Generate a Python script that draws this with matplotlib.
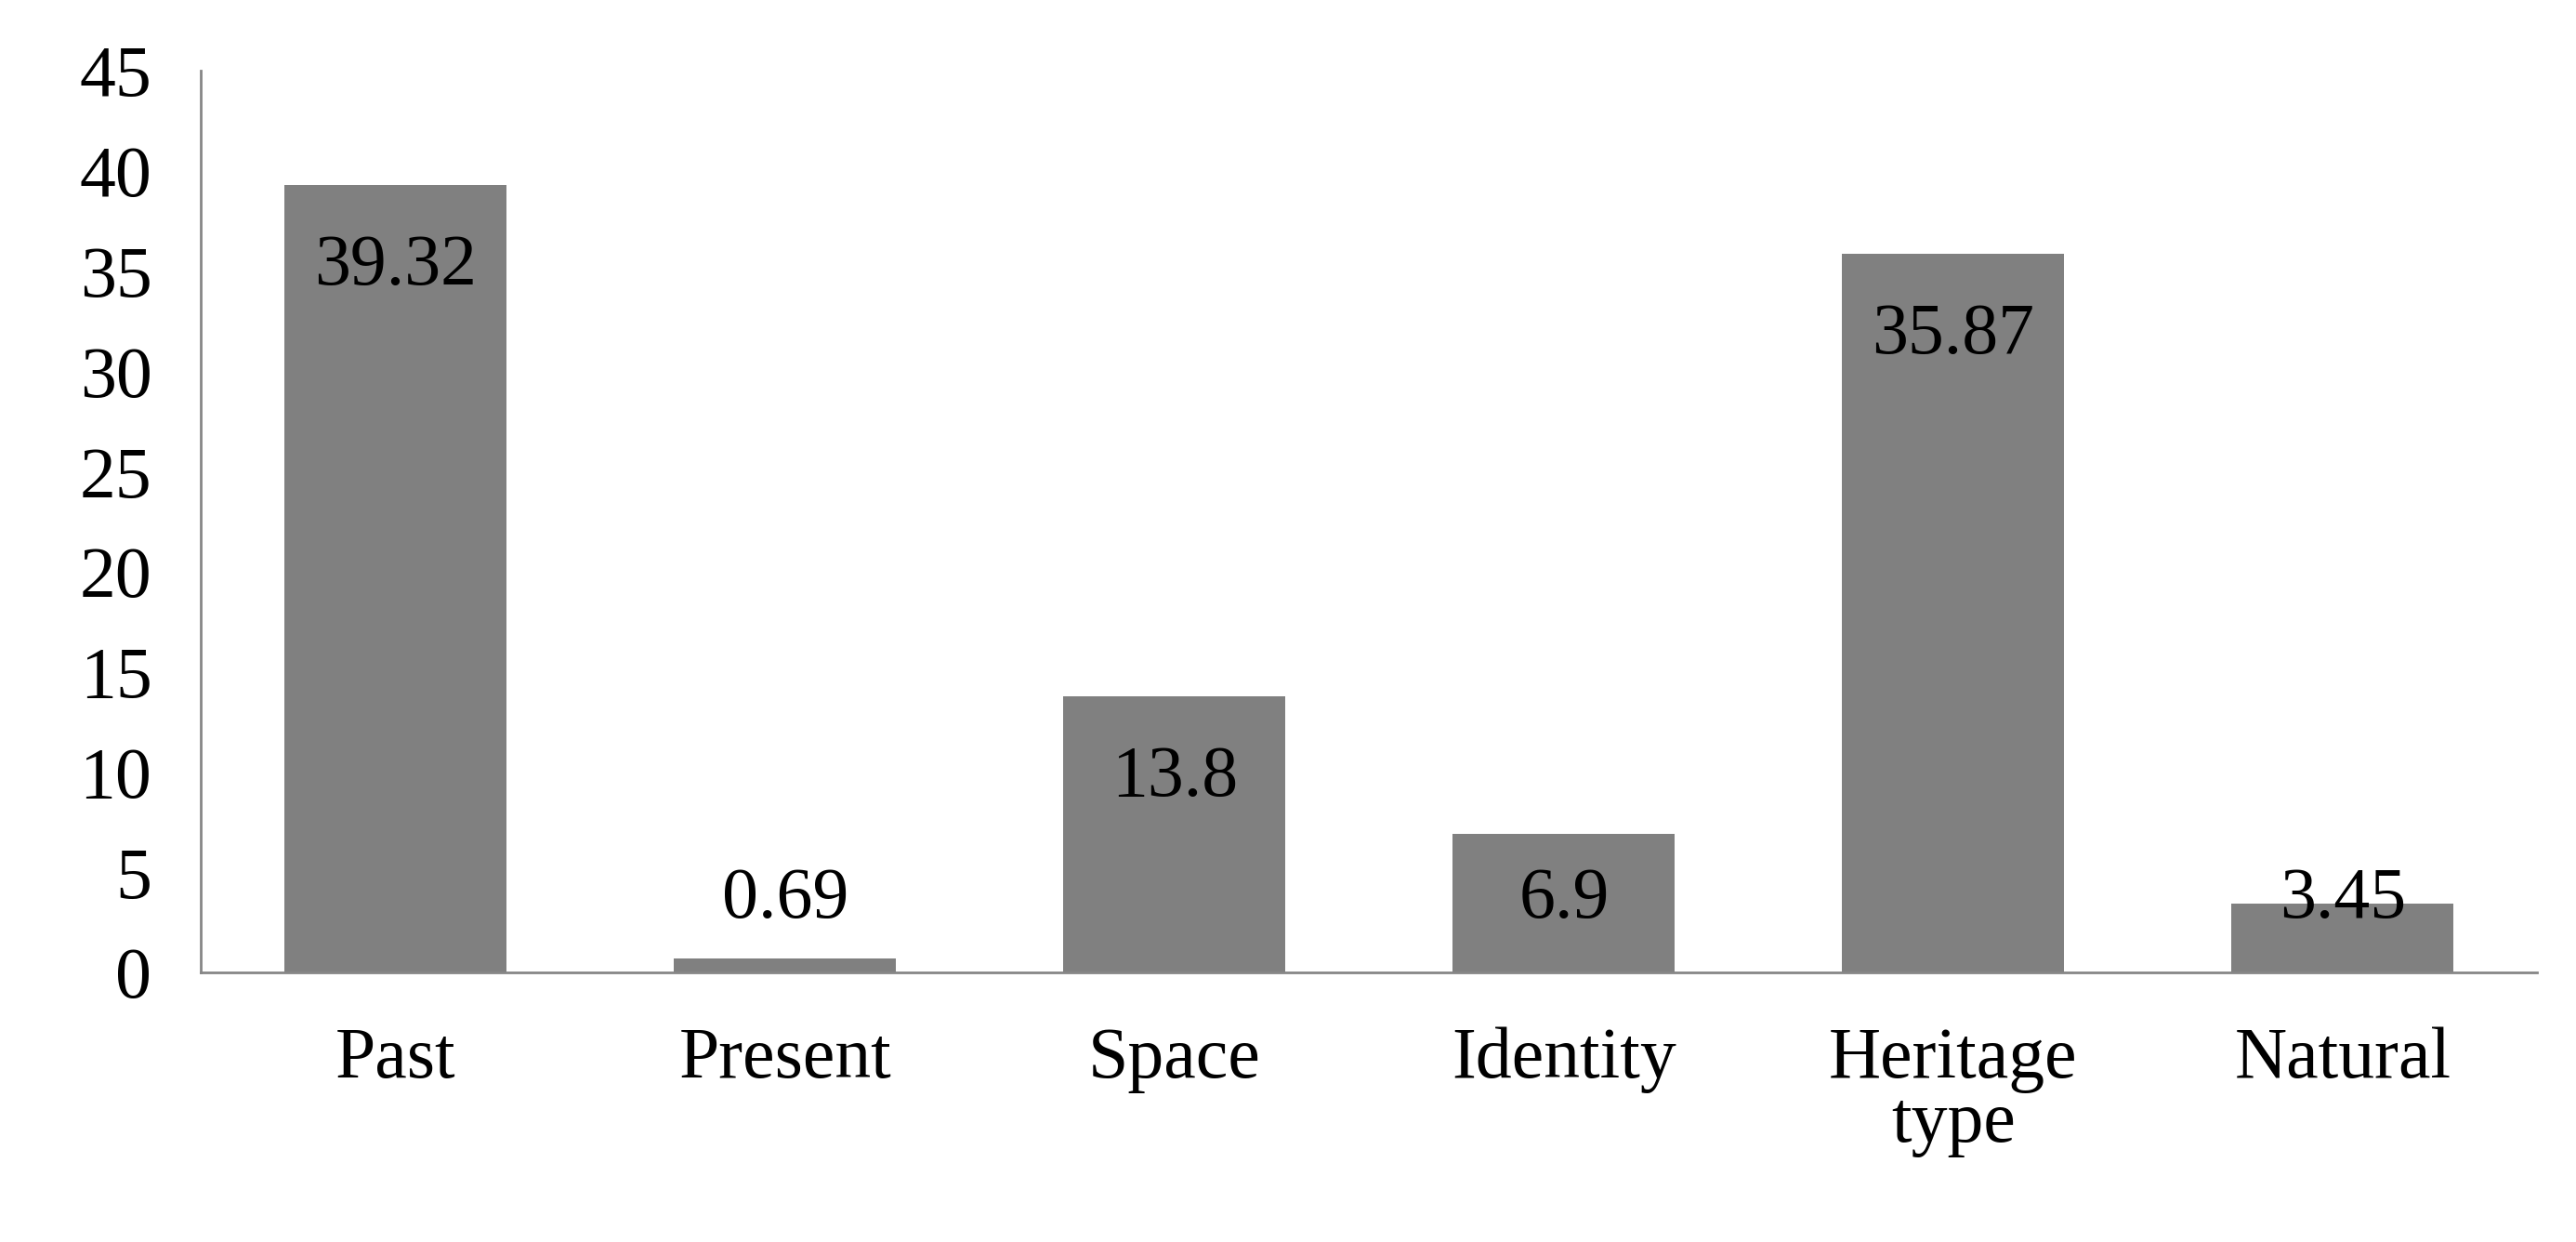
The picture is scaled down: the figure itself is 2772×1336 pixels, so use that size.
import matplotlib
matplotlib.use("Agg")
import matplotlib.pyplot as plt

categories = ["Past", "Present", "Space", "Identity", "Heritage\ntype", "Natural"]
values = [39.32, 0.69, 13.8, 6.9, 35.87, 3.45]
labels = ["39.32", "0.69", "13.8", "6.9", "35.87", "3.45"]
yticks = [0, 5, 10, 15, 20, 25, 30, 35, 40, 45]

plt.rcParams['font.family'] = ['Liberation Serif', 'DejaVu Serif']
fig = plt.figure(figsize=(27.72, 13.36), dpi=100)
ax = fig.add_axes([0.078, 0.217, 0.907, 0.726])
x = list(range(len(categories)))
ax.bar(x, values, width=0.57, color="#808080")
for xi, v, lab in zip(x, values, labels):
    ax.text(xi, max(v - 4.1, 3.6), lab, ha="center", va="center", fontsize=56, color="black")
ax.set_xlim(-0.5, 5.5)
ax.set_ylim(0, 45)
ax.set_yticks(yticks)
ax.set_xticks(x)
ax.set_xticklabels(categories, fontsize=56, linespacing=0.95)
ax.tick_params(axis='y', labelsize=56, length=0, pad=38)
ax.tick_params(axis='x', length=0, pad=42)
for s in ["top", "right"]:
    ax.spines[s].set_visible(False)
for s in ["left", "bottom"]:
    ax.spines[s].set_color("#868686")
    ax.spines[s].set_linewidth(2)
fig.savefig("out.png", dpi=100)
